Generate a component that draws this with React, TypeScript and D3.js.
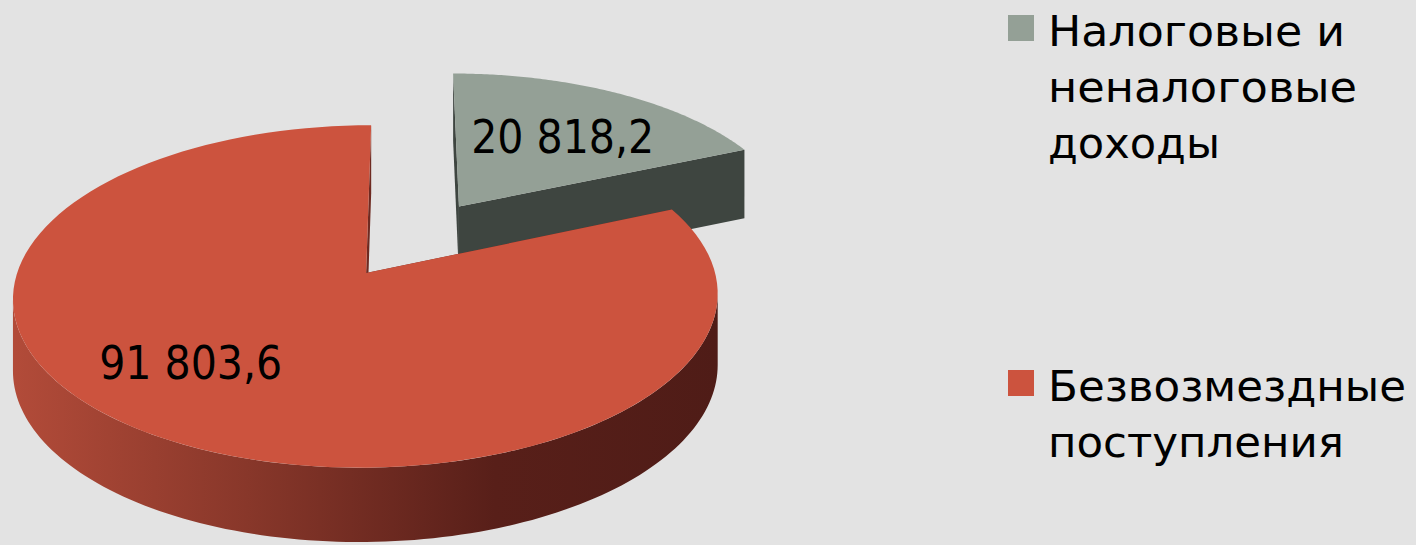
import React, { useEffect, useRef } from 'react';
import * as d3 from 'd3';

// --- data ---
const categories = ['Налоговые и неналоговые доходы', 'Безвозмездные поступления'];
const values = [20818.2, 91803.6];
const explode = [0.5, 0]; // fraction of radius
const legendLines = [
  ['Налоговые и', 'неналоговые', 'доходы'],
  ['Безвозмездные', 'поступления'],
];

const topColors = ['#94a096', '#cc533e'];
const sideColors = ['#3e4540', '#6e2a21'];

const W = 1416;
const H = 545;

// projection of the pie plane (u right, v toward viewer), mild perspective,
// camera sits a bit right of the pie centre
const X0 = 408;
const U0 = 0.12;
const CY = 273;
const RX = 349;
const RY = 168;
const K = -0.137;
const proj = (u: number, v: number): [number, number] => {
  const w = 1 + K * v;
  return [X0 + (RX * (u - U0)) / w, CY + (RY * v) / w];
};
const thick = (v: number) => 71 / (1 - 0.045 * v);

const ruLocale = d3.formatLocale({ decimal: ',', thousands: ' ', grouping: [3], currency: ['', ' ₽'] });
const fmt = ruLocale.format(',.1f');

const PieChart3D: React.FC = () => {
  const svgRef = useRef<SVGSVGElement>(null);

  useEffect(() => {
    if (!svgRef.current) return;
    const svg = d3.select(svgRef.current);
    svg.selectAll('*').remove();

    const defs = svg.append('defs');
    const grad = defs.append('linearGradient')
      .attr('id', 'redSide')
      .attr('gradientUnits', 'userSpaceOnUse')
      .attr('x1', 15).attr('x2', 720).attr('y1', 0).attr('y2', 0);
    [['0', '#b24b39'], ['0.33', '#88372a'], ['0.68', '#581f19'], ['1', '#4f1c17']].forEach(([o, c]) =>
      grad.append('stop').attr('offset', o).attr('stop-color', c));

    svg.append('rect').attr('width', W).attr('height', H).attr('fill', '#e3e3e3');

    const arcs = d3.pie<number>().sort(null)(values);

    const pt = (a: number, r: number, ou: number, ov: number) => {
      const u = ou + r * Math.sin(a);
      const v = ov - r * Math.cos(a);
      return { u, v, p: proj(u, v) };
    };
    const sample = (a0: number, a1: number) => d3.range(0, 121).map(i => a0 + (a1 - a0) * i / 120);
    const toPath = (pts: [number, number][]) => 'M' + pts.map(p => p.join(',')).join('L') + 'Z';

    // silhouette of the rim (leftmost / rightmost screen points) -> visible wall range
    const fine = d3.range(0, 3600).map(i => (i / 3600) * 2 * Math.PI);
    const rightA = fine.filter(a => a < Math.PI).reduce((b, a) => (pt(a, 1, 0, 0).p[0] > pt(b, 1, 0, 0).p[0] ? a : b), 0);
    const leftA = fine.filter(a => a > Math.PI).reduce((b, a) => (pt(a, 1, 0, 0).p[0] < pt(b, 1, 0, 0).p[0] ? a : b), Math.PI);

    // far slices first
    const order = arcs.map((a, i) => i).sort((a, b) => explode[b] - explode[a]);

    order.forEach(i => {
      const a = arcs[i];
      const mid = (a.startAngle + a.endAngle) / 2;
      const ou = explode[i] * Math.sin(mid);
      const ov = -explode[i] * Math.cos(mid);
      const g = svg.append('g');

      const c = pt(0, 0, ou, ov);
      const down = (q: { v: number; p: [number, number] }): [number, number] => [q.p[0], q.p[1] + thick(q.v)];

      // cut faces
      [a.startAngle, a.endAngle].forEach(ang => {
        const e = pt(ang, 1, ou, ov);
        g.append('path')
          .attr('d', toPath([c.p, e.p, down(e), down(c)]))
          .attr('fill', sideColors[i]);
      });

      // outer wall (front part only)
      const s0 = Math.max(a.startAngle, rightA);
      const s1 = Math.min(a.endAngle, leftA);
      if (s1 > s0) {
        const top = sample(s0, s1).map(t => pt(t, 1, ou, ov));
        const pts = top.map(q => q.p).concat(top.slice().reverse().map(down));
        g.append('path')
          .attr('d', toPath(pts))
          .attr('fill', i === 1 ? 'url(#redSide)' : sideColors[i]);
      }

      // top face
      const rim = sample(a.startAngle, a.endAngle).map(t => pt(t, 1, ou, ov).p);
      g.append('path')
        .attr('d', toPath([c.p, ...rim]))
        .attr('fill', topColors[i]);
    });

    // data labels
    const labelPos = [{ r: 0.61, da: 0.02 }, { r: 0.675, da: 0.17 }];
    arcs.forEach((a, i) => {
      const mid = (a.startAngle + a.endAngle) / 2;
      const ou = explode[i] * Math.sin(mid);
      const ov = -explode[i] * Math.cos(mid);
      const q = pt(mid + labelPos[i].da, labelPos[i].r, ou, ov);
      svg.append('text')
        .attr('x', q.p[0]).attr('y', q.p[1] + 17)
        .attr('text-anchor', 'middle')
        .attr('font-family', '"DejaVu Sans Condensed", "DejaVu Sans", sans-serif')
        .attr('font-size', 47)
        .attr('textLength', 183)
        .attr('lengthAdjust', 'spacingAndGlyphs')
        .attr('fill', '#000')
        .text(fmt(values[i]));
    });

    // legend
    const legendWidths = [[297, 309, 172], [358, 296]];
    const legendTop = [15, 370];
    legendLines.forEach((lines, i) => {
      const lg = svg.append('g').attr('transform', `translate(1008,${legendTop[i]})`);
      lg.append('rect').attr('width', 26).attr('height', 26).attr('fill', topColors[i]);
      lines.forEach((line, j) => {
        lg.append('text')
          .attr('x', 40).attr('y', 31 + j * 56)
          .attr('font-family', '"DejaVu Sans", sans-serif')
          .attr('font-size', 43)
          .attr('textLength', legendWidths[i][j])
          .attr('lengthAdjust', 'spacingAndGlyphs')
          .attr('fill', '#000')
          .text(line);
      });
      lg.append('title').text(categories[i]);
    });
  }, []);

  return (
    <svg ref={svgRef} width={W} height={H} viewBox={`0 0 ${W} ${H}`}
      style={{ position: 'fixed', left: 0, top: 0, display: 'block' }} />
  );
};

export default function App() {
  return <PieChart3D />;
}
